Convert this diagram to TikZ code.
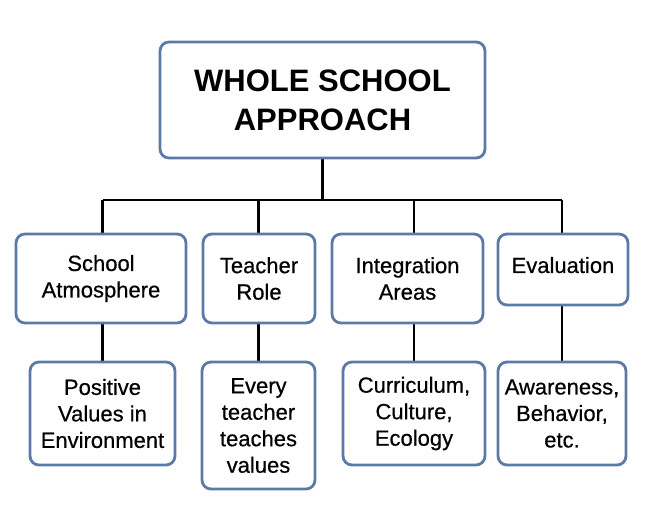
\documentclass[tikz,border=0pt]{standalone}
\usepackage{fontspec}
\setmainfont{Liberation Sans}
\newfontfamily\medfont{Liberation Sans}[FakeBold=0.5]
\usetikzlibrary{backgrounds}
\definecolor{boxblue}{RGB}{92,122,168}
\tikzset{
  box/.style={draw=boxblue, line width=2.8pt, rounded corners=9pt, fill=white,
    align=center, inner sep=0pt, font=\medfont\fontsize{22}{26.5}\selectfont},
  titlebox/.style={box, font=\fontsize{31}{39}\selectfont\bfseries},
  conn/.style={draw=black, line width=2.8pt}
}
\begin{document}
\begin{tikzpicture}[x=1pt,y=-1pt]
\useasboundingbox (0,0) rectangle (645,515);
% top
\node[titlebox, minimum width=325, minimum height=116] (top) at (322.5,100) {WHOLE SCHOOL\\APPROACH};
% level 2
\node[box, minimum width=170, minimum height=89] (sa) at (101,278.5) {School\\Atmosphere};
\node[box, minimum width=112, minimum height=89] (tr) at (259,278.5) {Teacher\\Role};
\node[box, minimum width=151, minimum height=89] (ia) at (407.5,278.5) {Integration\\Areas};
\node[box, minimum width=130, minimum height=71, text depth=9pt] (ev) at (563,269.5) {Evaluation};
% level 3
\node[box, minimum width=145, minimum height=103] (pv) at (102.5,413.5) {Positive\\Values in\\Environment};
\node[box, minimum width=113, minimum height=127] (et) at (258.5,425.5) {Every\\teacher\\teaches\\values};
\node[box, minimum width=142, minimum height=103] (cu) at (414,413.5) {Curriculum,\\Culture,\\Ecology};
\node[box, minimum width=128, minimum height=103] (aw) at (562,413.5) {Awareness,\\Behavior,\\etc.};
\coordinate (bus) at (322.5,200);
\coordinate (busL) at (102.5,200);
\coordinate (busR) at (562,200);
\begin{scope}[on background layer]
\fill[white] (0,0) rectangle (645,515);
\draw[conn] (top.south) -- (bus);
\draw[conn] (busL) -- (busR);
\draw[conn] (pv.north) -- (busL);
\draw[conn] (et.north) -- (et.north |- bus);
\draw[conn] (cu.north) -- (cu.north |- bus);
\draw[conn] (aw.north) -- (busR);
\end{scope}
\end{tikzpicture}
\end{document}
